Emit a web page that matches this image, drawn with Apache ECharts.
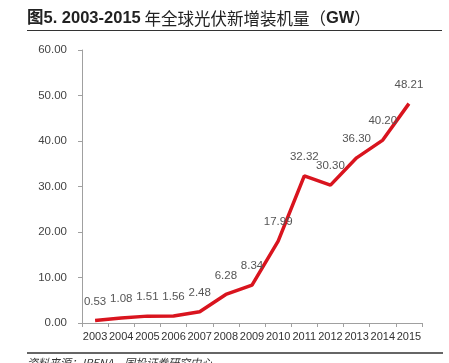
<!DOCTYPE html>
<html><head><meta charset="utf-8">
<script src="https://cdn.jsdelivr.net/npm/echarts@6/dist/echarts.min.js"></script>
<style>html,body{margin:0;padding:0;background:#fff}#c{width:449px;height:363px}</style>
</head><body><div id="c"></div>
<script>
const years = ['2003','2004','2005','2006','2007','2008','2009','2010','2011','2012','2013','2014','2015'];
const installs = [0.53,1.08,1.51,1.56,2.48,6.28,8.34,17.99,32.32,30.30,36.30,40.20,48.21];
const titleHead = '图5. 2003-2015';
const titleMid = ' 年全球光伏新增装机量（';
const titleUnit = 'GW';
const titleEnd = '）';
const sourceText = '资料来源：IRENA，国投证券研究中心';

const chart = echarts.init(document.getElementById('c'), null, {renderer:'canvas'});
chart.setOption({
  animation:false,
  backgroundColor:'#fff',
  grid:{left:82,right:27,top:50,bottom:40,containLabel:false},
  xAxis:{type:'category',data:years,boundaryGap:true,
    axisLine:{lineStyle:{color:'#a0a0a0',width:1}},
    axisTick:{show:true,length:4,lineStyle:{color:'#a0a0a0'}},
    axisLabel:{color:'#333',fontSize:11,fontFamily:'Liberation Sans, Arial',margin:8,interval:0}},
  yAxis:{type:'value',min:0,max:60,interval:10,
    axisLine:{show:true,lineStyle:{color:'#a0a0a0',width:1}},
    axisTick:{show:true,length:4,lineStyle:{color:'#a0a0a0'}},
    splitLine:{show:false},
    axisLabel:{color:'#444',fontSize:11.5,fontFamily:'Liberation Sans, Arial',margin:15,
      formatter:v=>v.toFixed(2)}},
  series:[{type:'line',data:installs,showSymbol:true,symbol:'circle',symbolSize:2,
    itemStyle:{color:'rgba(0,0,0,0)',borderWidth:0},
    lineStyle:{color:'#d9141e',width:3.5},
    labelLayout:{hideOverlap:false},
    label:{show:true,position:'top',distance:12,color:'#555',fontSize:11.5,
      fontFamily:'Liberation Sans, Arial',formatter:p=>p.value.toFixed(2)}}],
  graphic:[
    {type:'text',left:27,top:10,style:{
      rich:{h:{fontSize:16.5,fontWeight:'bold',fontFamily:'Liberation Sans, Noto Sans CJK SC',fill:'#222'},
            t:{fontSize:16.5,fontWeight:'normal',fontFamily:'Noto Sans CJK SC',fill:'#222'}},
      text:'{h|'+titleHead+'}{t|'+titleMid+'}{h|'+titleUnit+'}{t|'+titleEnd+'}'}},
    {type:'line',shape:{x1:27,y1:30.5,x2:442,y2:30.5},style:{stroke:'#333',lineWidth:1}},
    {type:'line',shape:{x1:27,y1:353,x2:443,y2:353},style:{stroke:'#333',lineWidth:1.5}},
    {type:'text',left:27,top:357,style:{text:sourceText,fontSize:11,fontStyle:'italic',
      fontFamily:'Noto Sans CJK SC',fill:'#333'}}
  ]
});
</script></body></html>
